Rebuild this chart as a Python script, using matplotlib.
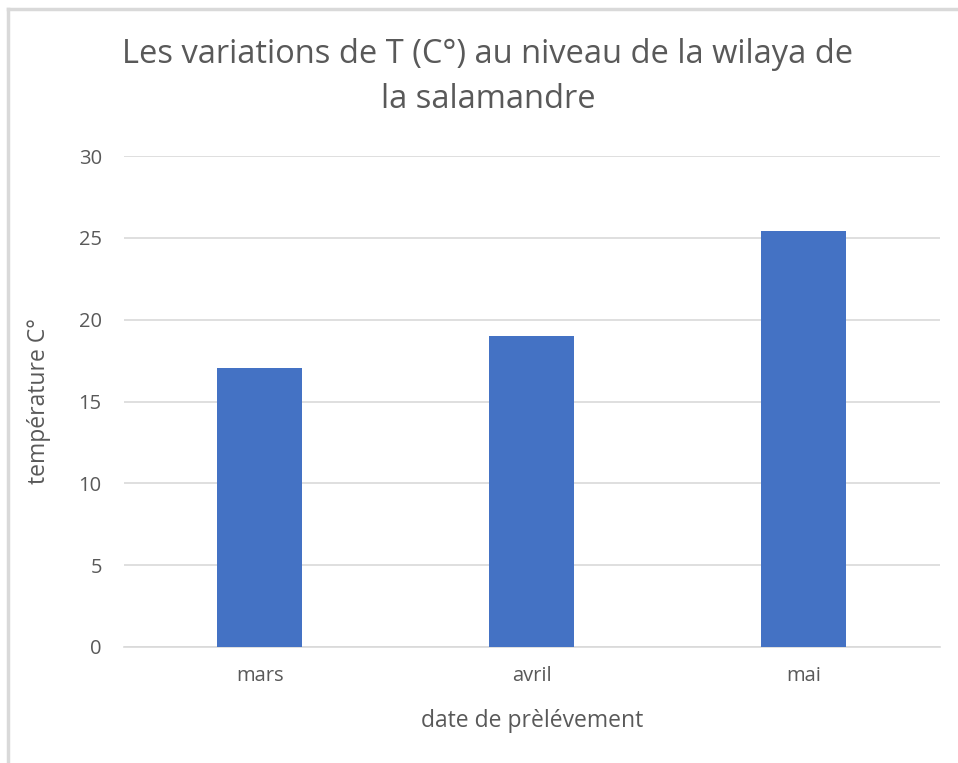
import matplotlib
matplotlib.use("Agg")
import matplotlib.pyplot as plt
from matplotlib.lines import Line2D

categories = ["mars", "avril", "mai"]
temperatures = [17.05, 19.0, 25.4]
yticks = [0, 5, 10, 15, 20, 25, 30]

plt.rcParams['font.family'] = ['Open Sans', 'DejaVu Sans']
txt = "#595959"

fig = plt.figure(figsize=(9.58, 7.63), dpi=100)
ax = fig.add_axes([124/958, 1-647/763, 816/958, 491/763])
x = list(range(len(categories)))
ax.bar(x, temperatures, width=0.3125, color="#4472C4", zorder=3)
ax.set_xlim(-0.5, 2.5)
ax.set_ylim(0, 30)
ax.set_yticks(yticks)
ax.set_xticks(x)
ax.set_xticklabels(categories)
ax.grid(axis="y", color="#D9D9D9", linewidth=1.2, zorder=0)
for s in ["top", "right", "left"]:
    ax.spines[s].set_visible(False)
ax.spines["bottom"].set_color("#D9D9D9")
ax.spines["bottom"].set_linewidth(1.2)
ax.tick_params(length=0, labelsize=14.5, labelcolor=txt)
ax.tick_params(axis="x", pad=14)
ax.tick_params(axis="y", pad=16)
ax.set_ylabel("température C°", fontsize=16.5, color=txt, labelpad=20)
ax.set_xlabel("date de prèlévement", fontsize=16.5, color=txt, labelpad=16)
fig.text(488/958, 1-77/763, "Les variations de T (C°) au niveau de la wilaya de\nla salamandre",
         ha="center", va="center", fontsize=23.5, color=txt, linespacing=1.5)

fig.add_artist(Line2D([8/958, 8/958], [0, 1-9/763], color="#D9D9D9", linewidth=2.5))
fig.add_artist(Line2D([8/958, 1], [1-9/763, 1-9/763], color="#D9D9D9", linewidth=2.5))

fig.savefig("out.png", dpi=100)
